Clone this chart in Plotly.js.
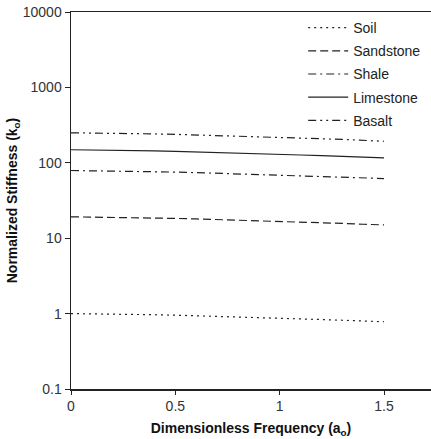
<!DOCTYPE html>
<html>
<head>
<meta charset="utf-8">
<script src="https://cdn.plot.ly/plotly-3.0.1.min.js"></script>
<style>html,body{margin:0;padding:0;background:#fff;overflow:hidden}</style>
</head>
<body>
<div id="chart" style="width:431px;height:439px"></div>
<script>
const freq = [0, 0.1, 0.2, 0.3, 0.4, 0.5, 0.6, 0.7, 0.8, 0.9, 1.0, 1.1, 1.2, 1.3, 1.4, 1.5];
const soil = [1.00, 0.995, 0.988, 0.978, 0.966, 0.953, 0.938, 0.922, 0.905, 0.888, 0.870, 0.852, 0.834, 0.816, 0.798, 0.780];
const sandstone = [19.2, 19.1, 19.0, 18.8, 18.5, 18.3, 18.0, 17.7, 17.4, 17.0, 16.7, 16.4, 16.0, 15.7, 15.3, 15.0];
const shale = [79.0, 78.6, 78.1, 77.3, 76.3, 75.3, 74.1, 72.8, 71.5, 70.2, 68.7, 67.3, 65.9, 64.5, 63.0, 61.8];
const limestone = [149, 148.3, 147.2, 145.7, 143.9, 142.0, 139.8, 137.4, 134.8, 132.3, 129.6, 126.9, 124.3, 121.6, 118.9, 116.2];
const basalt = [250, 248.8, 247, 244.5, 241.5, 238.3, 234.5, 230.5, 226.3, 222, 217.5, 213, 208.5, 204, 199.5, 193];
const seriesNames = ["Soil", "Sandstone", "Shale", "Limestone", "Basalt"];
const yTickVals = [0.1, 1, 10, 100, 1000, 10000];
const yTickText = ["0.1", "1", "10", "100", "1000", "10000"];
const xTickVals = [0, 0.5, 1, 1.5];
const xTickText = ["0", "0.5", "1", "1.5"];

const seriesData = [soil, sandstone, shale, limestone, basalt];
const dashes = ["2px,4px", "8px,4px", "8px,4px,2px,4px", "solid", "8px,4px,2px,4px,2px,4px"];
const traces = seriesData.map((ys, i) => ({
  x: freq, y: ys, name: seriesNames[i], type: "scatter", mode: "lines",
  legendgroup: "g" + i,
  line: {color: "#222", width: 1.2, dash: dashes[i]}
}));

const layout = {
  width: 431, height: 439,
  margin: {l: 71, r: 0, t: 12, b: 50},
  paper_bgcolor: "#fff", plot_bgcolor: "#fff",
  font: {family: "Liberation Sans, Arial, sans-serif", size: 14, color: "#333"},
  showlegend: true,
  legend: {x: 0.645, y: 1, xanchor: "left", yanchor: "top", bgcolor: "rgba(0,0,0,0)",
           font: {size: 14, color: "#222"}, tracegroupgap: 2, itemwidth: 40},
  xaxis: {
    type: "linear", range: [0, 1.725],
    tickmode: "array", tickvals: xTickVals, ticktext: xTickText,
    showgrid: false, zeroline: false,
    showline: true, linecolor: "#222", linewidth: 1.5, mirror: true,
    ticks: "outside", ticklen: 4, tickcolor: "#222",
    tickfont: {size: 14, color: "#333"},
    title: {text: "<b>Dimensionless Frequency (a<sub>o</sub>)</b>", font: {size: 14, color: "#111"}, standoff: 10}
  },
  yaxis: {
    type: "log", range: [-1, 4],
    tickmode: "array", tickvals: yTickVals, ticktext: yTickText,
    showgrid: false, zeroline: false,
    showline: true, linecolor: "#222", linewidth: 1.5,
    ticks: "outside", ticklen: 5, tickcolor: "#222",
    tickfont: {size: 14, color: "#333"},
    title: {text: "<b>Normalized Stiffness (k<sub>o</sub>)</b>", font: {size: 14, color: "#111"}, standoff: 2}
  }
};

Plotly.newPlot("chart", traces, layout, {displayModeBar: false, staticPlot: true});
</script>
</body>
</html>
